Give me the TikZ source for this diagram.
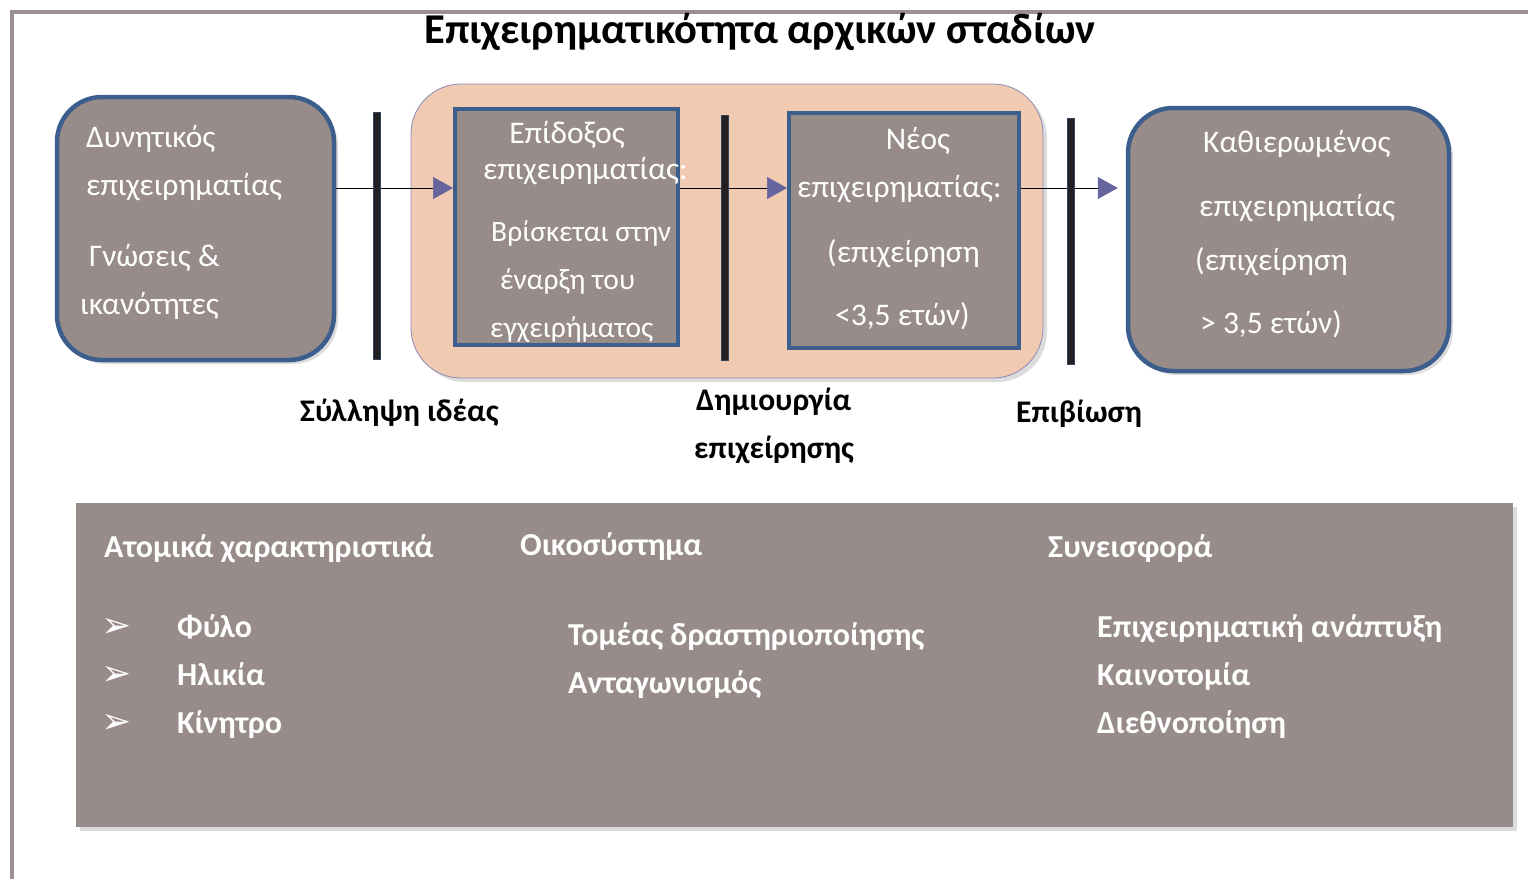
\documentclass[tikz,border=0pt]{standalone}
\usepackage{fontspec}
\setmainfont{Carlito}
\newfontfamily\symfont{DejaVu Sans}
\usetikzlibrary{arrows.meta,shadows}
\definecolor{boxgrey}{HTML}{978C8A}
\definecolor{boxblue}{HTML}{3B5E8C}
\definecolor{peach}{HTML}{F0CBB2}
\definecolor{peachline}{HTML}{8C88B8}
\definecolor{tipblue}{HTML}{65649C}
\definecolor{framegrey}{HTML}{9A9090}
\definecolor{bardark}{HTML}{231F20}
\tikzset{
  softshadow/.style={drop shadow={opacity=0.28,shadow xshift=4pt,shadow yshift=-4pt}},
  stagebox/.style={draw=boxblue,line width=4.5pt,fill=boxgrey,rounded corners=45pt,softshadow},
  innerbox/.style={draw=boxblue,line width=4pt,fill=boxgrey},
  boxtext/.style={anchor=west,inner sep=0pt,text=white,font=\fontsize{31.5}{36}\selectfont,text height=0.7em,text depth=0.25em},
  smalltext/.style={boxtext,font=\fontsize{29.5}{34}\selectfont},
  label/.style={anchor=west,inner sep=0pt,font=\bfseries\fontsize{31.5}{36}\selectfont,text height=0.7em,text depth=0.25em},
  paneltext/.style={anchor=west,inner sep=0pt,text=white,font=\bfseries\fontsize{32}{36}\selectfont,text height=0.7em,text depth=0.25em},
  bar/.style={draw=boxblue!60!bardark,line width=0.6pt,fill=bardark,minimum width=7pt,inner sep=0pt},
  flow/.style={line width=0.7pt,-{Triangle[length=20pt,width=22pt,color=tipblue]}}
}
\begin{document}
\begin{tikzpicture}[x=1pt,y=-1pt]
\useasboundingbox (0,0) rectangle (1528,879);
\draw[framegrey,line width=4pt] (12,879) -- (12,12) -- (1528,12);
\node[font=\bfseries\fontsize{42.5}{48}\selectfont] (title) at (760,32) {Επιχειρηματικότητα αρχικών σταδίων};

% stage boxes
\node[stagebox,minimum width=277pt,minimum height=263pt] (potential) at (195.5,228.5) {};
\node[draw=peachline,line width=0.8pt,fill=peach,rounded corners=50pt,softshadow,minimum width=632pt,minimum height=294pt] (stagearea) at (727,231) {};
\node[innerbox,minimum width=223pt,minimum height=236pt] (aspiring) at (566.5,227) {};
\node[innerbox,minimum width=230pt,minimum height=235pt] (newent) at (904,230.5) {};
\node[stagebox,minimum width=321pt,minimum height=263pt] (established) at (1288.5,239.5) {};

\node[boxtext] (p1) at (86,145) {Δυνητικός};
\node[boxtext] (p2) at (86,193) {επιχειρηματίας};
\node[boxtext] (p3) at (89,264) {Γνώσεις \&};
\node[boxtext] (p4) at (80,312) {ικανότητες};

\node[boxtext,anchor=center] (a1) at (567,141) {Επίδοξος};
\node[boxtext] (a2) at (483,177) {επιχειρηματίας:};
\node[smalltext] (a3) at (491,239) {Βρίσκεται στην};
\node[smalltext] (a4) at (500,287) {έναρξη του};
\node[smalltext] (a5) at (490,335) {εγχειρήματος};

\node[boxtext,anchor=center] (n1) at (918,147) {Νέος};
\node[boxtext] (n2) at (797,195) {επιχειρηματίας:};
\node[boxtext] (n3) at (827,260) {(επιχείρηση};
\node[boxtext] (n4) at (835,323) {<3,5 ετών)};

\node[boxtext] (e1) at (1203,150) {Καθιερωμένος};
\node[boxtext] (e2) at (1199,214) {επιχειρηματίας};
\node[boxtext] (e3) at (1195,268) {(επιχείρηση};
\node[boxtext] (e4) at (1200,331) {> 3,5 ετών)};

% arrows and bars
\draw[flow] (potential.east |- 0,188) -- (aspiring.west |- 0,188);
\draw[flow] (aspiring.east |- 0,188) -- (newent.west |- 0,188);
\draw[flow,shorten >=8pt] (newent.east |- 0,188) -- (established.west |- 0,188);
\node[bar,minimum height=247pt] (baridea) at (377,235.5) {};
\node[bar,minimum height=245pt] (barcreate) at (725,237.5) {};
\node[bar,minimum height=246pt] (barsurvive) at (1071,241) {};

\node[label] (lblidea) at (300,419) {Σύλληψη ιδέας};
\node[label] (lblcreate1) at (696,408) {Δημιουργία};
\node[label] (lblcreate2) at (694,456) {επιχείρησης};
\node[label] (lblsurvive) at (1016,420) {Επιβίωση};

% factors panel
\node[fill=boxgrey,softshadow,minimum width=1437pt,minimum height=324pt] (factors) at (794.5,665) {};
\node[paneltext] (h1) at (104,555) {Ατομικά χαρακτηριστικά};
\node[paneltext] (h2) at (520,553) {Οικοσύστημα};
\node[paneltext] (h3) at (1048,555) {Συνεισφορά};
\foreach \y/\t [count=\i] in {628/Φύλο,676/Ηλικία,724/Κίνητρο}{
  \node[text=white,inner sep=0pt,font=\symfont\fontsize{36}{40}\selectfont] (b\i) at (117,\y) {➢};
  \node[paneltext] (i\i) at (177,\y+7) {\t};
}
\node[paneltext] (o1) at (568,643) {Τομέας δραστηριοποίησης};
\node[paneltext] (o2) at (568,691) {Ανταγωνισμός};
\node[paneltext] (c1) at (1097,635) {Επιχειρηματική ανάπτυξη};
\node[paneltext] (c2) at (1097,683) {Καινοτομία};
\node[paneltext] (c3) at (1097,731) {Διεθνοποίηση};
\end{tikzpicture}
\end{document}
